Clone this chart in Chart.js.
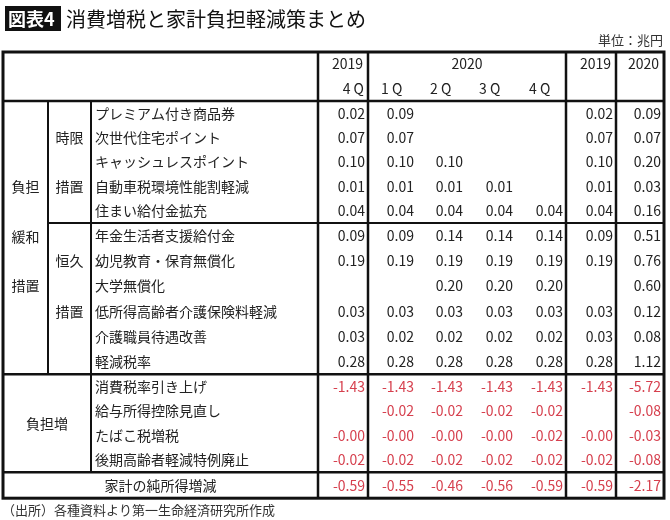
<!DOCTYPE html>
<html lang="ja">
<head>
<meta charset="UTF-8">
<title>消費増税と家計負担軽減策まとめ</title>
<script src="https://cdn.jsdelivr.net/npm/chart.js"></script>
<style>
  body { margin: 0; background: #fff; }
  canvas { display: block; }
</style>
</head>
<body>
<canvas id="tbl" width="670" height="520"></canvas>
<script>
// row labels
const rowLabels = [
  'プレミアム付き商品券', '次世代住宅ポイント', 'キャッシュレスポイント', '自動車税環境性能割軽減', '住まい給付金拡充',
  '年金生活者支援給付金', '幼児教育・保育無償化', '大学無償化', '低所得高齢者介護保険料軽減', '介護職員待遇改善', '軽減税率',
  '消費税率引き上げ', '給与所得控除見直し', 'たばこ税増税', '後期高齢者軽減特例廃止',
  '家計の純所得増減'
];
const colTop = ['2019', '2020', '', '', '', '2019', '2020'];
const colSub = ['4 Q', '1 Q', '2 Q', '3 Q', '4 Q', '', ''];

// values per column (strings keep "-0.00" as printed)
const q4_2019 = ['0.02','0.07','0.10','0.01','0.04','0.09','0.19','','0.03','0.03','0.28','-1.43','','-0.00','-0.02','-0.59'];
const q1_2020 = ['0.09','0.07','0.10','0.01','0.04','0.09','0.19','','0.03','0.02','0.28','-1.43','-0.02','-0.00','-0.02','-0.55'];
const q2_2020 = ['','','0.10','0.01','0.04','0.14','0.19','0.20','0.03','0.02','0.28','-1.43','-0.02','-0.00','-0.02','-0.46'];
const q3_2020 = ['','','','0.01','0.04','0.14','0.19','0.20','0.03','0.02','0.28','-1.43','-0.02','-0.00','-0.02','-0.56'];
const q4_2020 = ['','','','','0.04','0.14','0.19','0.20','0.03','0.02','0.28','-1.43','-0.02','-0.02','-0.02','-0.59'];
const fy2019  = ['0.02','0.07','0.10','0.01','0.04','0.09','0.19','','0.03','0.03','0.28','-1.43','','-0.00','-0.02','-0.59'];
const fy2020  = ['0.09','0.07','0.20','0.03','0.16','0.51','0.76','0.60','0.12','0.08','1.12','-5.72','-0.08','-0.03','-0.08','-2.17'];
const valueCols = [q4_2019, q1_2020, q2_2020, q3_2020, q4_2020, fy2019, fy2020];

// layout (table units = px from table top-left)
const colEdges = [0, 45, 88, 315, 365, 414, 463, 513, 563, 613, 661];
const rowHeights = [24, 25, 24.4, 24.4, 24.4, 24.4, 24.4, 25.2, 25.2, 25.2, 25.2, 25.2, 25.2, 24.5, 24.5, 24.5, 24.5, 26];

const FONT = '"Noto Sans CJK JP", "Noto Sans", sans-serif';
const RED = '#d6404e';
const rowEdges = [0];
rowHeights.forEach(h => rowEdges.push(rowEdges[rowEdges.length - 1] + h));

const tablePlugin = {
  id: 'tablePlugin',
  afterDraw(chart) {
    const ctx = chart.ctx;
    const X = v => chart.scales.x.getPixelForValue(v);
    const Y = v => chart.scales.y.getPixelForValue(v);
    const rowMid = r => Y((rowEdges[r] + rowEdges[r + 1]) / 2);
    ctx.save();

    // title
    ctx.fillStyle = '#111';
    ctx.fillRect(5, 6, 56, 25);
    ctx.fillStyle = '#fff';
    ctx.font = 'bold 18px ' + FONT;
    ctx.textBaseline = 'middle';
    ctx.fillText('図表4', 8, 19);
    ctx.fillStyle = '#111';
    ctx.font = '20px ' + FONT;
    ctx.fillText('消費増税と家計負担軽減策まとめ', 66, 19);
    ctx.font = '13px ' + FONT;
    ctx.fillStyle = '#333';
    ctx.textAlign = 'right';
    ctx.fillText('単位：兆円', 663, 40);
    ctx.textAlign = 'left';
    ctx.fillText('（出所）各種資料より第一生命経済研究所作成', 2, 510);

    // header
    ctx.font = '14px ' + FONT;
    ctx.fillStyle = '#222';
    colTop.forEach((t, i) => {
      if (!t) return;
      const l = colEdges[3 + i], r = colEdges[4 + i];
      if (i === 1) {
        ctx.textAlign = 'center';
        ctx.fillText(t, X((l + colEdges[8]) / 2), rowMid(0));
      } else {
        ctx.textAlign = 'right';
        ctx.fillText(t, X(r) - 5, rowMid(0));
      }
    });
    colSub.forEach((t, i) => {
      if (!t) return;
      const l = colEdges[3 + i], r = colEdges[4 + i];
      if (i === 0) { ctx.textAlign = 'right'; ctx.fillText(t, X(r) - 4, rowMid(1)); }
      else { ctx.textAlign = 'left'; ctx.fillText(t, X(l) + 13, rowMid(1)); }
    });

    // row labels and values
    rowLabels.forEach((lab, k) => {
      const r = k + 2;
      ctx.fillStyle = '#222';
      if (k === rowLabels.length - 1) {
        ctx.textAlign = 'center';
        ctx.fillText(lab, X(colEdges[3] / 2), rowMid(r));
      } else {
        ctx.textAlign = 'left';
        ctx.fillText(lab, X(colEdges[2]) + 4, rowMid(r));
      }
      valueCols.forEach((col, c) => {
        const v = col[k];
        if (!v) return;
        ctx.fillStyle = v.startsWith('-') ? RED : '#222';
        ctx.textAlign = 'right';
        ctx.fillText(v, X(colEdges[4 + c]) - 3, rowMid(r));
      });
    });

    // group labels
    ctx.fillStyle = '#222';
    ctx.textAlign = 'center';
    const c0 = X(colEdges[1] / 2), c1 = X((colEdges[1] + colEdges[2]) / 2);
    ctx.fillText('負担', c0, rowMid(5));
    ctx.fillText('緩和', c0, rowMid(7) + 1);
    ctx.fillText('措置', c0, rowMid(9));
    ctx.fillText('時限', c1, rowMid(3));
    ctx.fillText('措置', c1, rowMid(5));
    ctx.fillText('恒久', c1, rowMid(8));
    ctx.fillText('措置', c1, rowMid(10));
    ctx.fillText('負担増', X(colEdges[2] / 2), (Y(rowEdges[13]) + Y(rowEdges[17])) / 2);

    // lines
    ctx.strokeStyle = '#111';
    const line = (x1, y1, x2, y2, w) => {
      ctx.lineWidth = w;
      ctx.beginPath();
      ctx.moveTo(X(x1), Y(y1));
      ctx.lineTo(X(x2), Y(y2));
      ctx.stroke();
    };
    const top = rowEdges[0], bot = rowEdges[rowEdges.length - 1];
    const L = colEdges[0], R = colEdges[colEdges.length - 1];
    line(L, rowEdges[2], R, rowEdges[2], 2.5);
    line(colEdges[1], rowEdges[7], R, rowEdges[7], 2);
    line(L, rowEdges[13], R, rowEdges[13], 2.5);
    line(L, rowEdges[17], R, rowEdges[17], 2.5);
    line(colEdges[1], rowEdges[2], colEdges[1], rowEdges[13], 2);
    line(colEdges[2], rowEdges[2], colEdges[2], rowEdges[17], 2);
    [3, 4, 8, 9].forEach(i => line(colEdges[i], top, colEdges[i], bot, 2.5));
    ctx.lineWidth = 3;
    ctx.strokeRect(X(L), Y(top), X(R) - X(L), Y(bot) - Y(top));
    ctx.restore();
  }
};

new Chart(document.getElementById('tbl'), {
  type: 'scatter',
  data: { datasets: [] },
  options: {
    responsive: false,
    animation: false,
    layout: { padding: { left: 3, right: 6, top: 52, bottom: 520 - 52 - rowEdges[rowEdges.length - 1] } },
    plugins: { legend: { display: false }, tooltip: { enabled: false } },
    scales: {
      x: { type: 'linear', display: false, min: colEdges[0], max: colEdges[colEdges.length - 1] },
      y: { type: 'linear', display: false, reverse: true, min: 0, max: rowEdges[rowEdges.length - 1] }
    }
  },
  plugins: [tablePlugin]
});
</script>
</body>
</html>
